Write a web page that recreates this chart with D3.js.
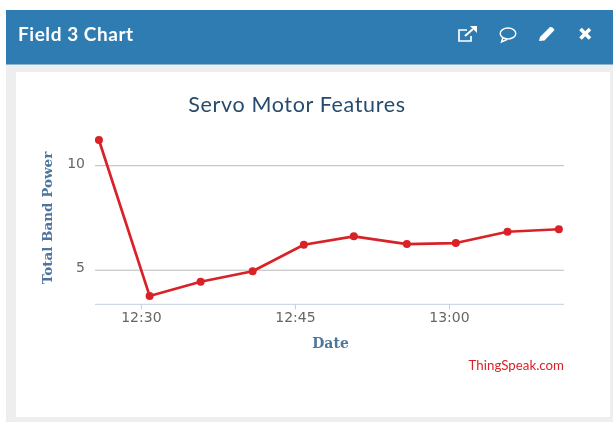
<!DOCTYPE html>
<html><head><meta charset="utf-8">
<script src="https://cdnjs.cloudflare.com/ajax/libs/d3/7.8.5/d3.min.js"></script>
<style>html,body{margin:0;padding:0;background:#fff;overflow:hidden}svg{display:block;filter:blur(0.35px)}</style>
</head><body><svg id="c" width="613" height="422"></svg>
<script>
const times = ["12:25:55","12:30:51","12:35:49","12:40:53","12:45:52","12:50:44","12:55:54","13:00:40","13:05:42","13:10:42"];
const values = [11.23,3.77,4.45,4.95,6.22,6.62,6.25,6.30,6.84,6.96];
const xTicks = ["12:30:00","12:45:00","13:00:00"];
const yTicks = [5,10];
const xDomain = ["12:25:32","13:11:12"];
const yDomain = [3.37,10];
const panelTitle = "Field 3 Chart";
const chartTitle = "Servo Motor Features";
const xLabel = "Date";
const yLabel = "Total Band Power";
const credit = "ThingSpeak.com";

const parse = s => new Date("2020-01-01T"+s+"Z");
const svg = d3.select("#c");
const sans = "Lato, 'Open Sans', sans-serif";
const tickFont = "'DejaVu Sans', sans-serif";
const labelFont = "'DejaVu Serif', serif";

// panel
svg.append("rect").attr("x",6).attr("y",10).attr("width",607).attr("height",412).attr("fill","#eeeeee");
svg.append("rect").attr("x",6).attr("y",10).attr("width",607).attr("height",54.5).attr("fill","#2e7cb2");
svg.append("rect").attr("x",16).attr("y",72).attr("width",594).attr("height",345).attr("fill","#fff");
svg.append("text").attr("x",18).attr("y",41).attr("fill","#fff").attr("font-family",sans)
  .attr("font-weight",700).attr("font-size",19).attr("letter-spacing",0.55).text(panelTitle);

// header icons
const ic = svg.append("g").attr("fill","none").attr("stroke","#fff").attr("stroke-width",1.7);
ic.append("path").attr("d","M467 30h-8v11h12v-5");
ic.append("path").attr("d","M465 36L473 29").attr("stroke-width",2);
ic.append("path").attr("d","M470 26h7v7z").attr("fill","#fff").attr("stroke","none");
ic.append("ellipse").attr("cx",508).attr("cy",33.5).attr("rx",7.8).attr("ry",5.5).attr("stroke-width",1.4);
ic.append("path").attr("d","M503 37.5l-1.5 4.5l5.5-2.5").attr("stroke-width",1.4);
ic.append("path").attr("d","M539 41l1-4l10-10q3-0.5 4.5 3l-10 10.5z").attr("fill","#fff").attr("stroke","none");
ic.append("path").attr("d","M580.5 29L590 38.5M590 29L580.5 38.5").attr("stroke-width",3.6);

// scales
const x = d3.scaleTime().domain(xDomain.map(parse)).range([95,564]);
const y = d3.scaleLinear().domain(yDomain).range([304.3,165.7]);

// grid
svg.append("g").selectAll("line").data(yTicks).join("line")
  .attr("x1",95).attr("x2",564).attr("y1",d=>y(d)).attr("y2",d=>y(d))
  .attr("stroke","#bcbcbc").attr("stroke-width",1);

// x axis
const gx = svg.append("g").attr("transform","translate(0,304.3)")
  .call(d3.axisBottom(x).tickValues(xTicks.map(parse)).tickSize(5)
    .tickFormat(d3.utcFormat("%H:%M")));
gx.select(".domain").attr("stroke","#c0d0e0").attr("d","M95,0H564");
gx.selectAll(".tick line").attr("stroke","#c0d0e0");
gx.selectAll("text").attr("fill","#666").attr("font-family",tickFont).attr("font-size",14).attr("dy",null).attr("y",18);

// y axis
const gy = svg.append("g").attr("transform","translate(85,0)")
  .call(d3.axisLeft(y).tickValues(yTicks).tickSize(0).tickPadding(0).tickFormat(d3.format("d")));
gy.select(".domain").remove();
gy.selectAll("text").attr("fill","#666").attr("font-family",tickFont).attr("font-size",14).attr("dy","0.1em");

// line
const line = d3.line().x((d,i)=>x(parse(times[i]))).y(d=>y(d));
svg.append("path").datum(values).attr("d",line).attr("fill","none").attr("stroke","#d92228")
  .attr("stroke-width",2.7).attr("stroke-linejoin","round");
svg.append("g").selectAll("circle").data(values).join("circle")
  .attr("cx",(d,i)=>x(parse(times[i]))).attr("cy",d=>y(d)).attr("r",4).attr("fill","#d92228");

// text
svg.append("text").attr("x",297).attr("y",112).attr("text-anchor","middle").attr("fill","#274b6d")
  .attr("font-family",sans).attr("font-size",21.5).attr("letter-spacing",0.65).text(chartTitle);
svg.append("text").attr("x",330.5).attr("y",348).attr("text-anchor","middle").attr("fill","#4d759e")
  .attr("font-family",labelFont).attr("font-weight",700).attr("font-size",14).text(xLabel);
svg.append("text").attr("transform","translate(52,218) rotate(-90)").attr("text-anchor","middle").attr("fill","#4d759e")
  .attr("font-family",labelFont).attr("font-weight",700).attr("font-size",13.5).text(yLabel);
svg.append("text").attr("x",564).attr("y",370).attr("text-anchor","end").attr("fill","#d92228")
  .attr("font-family",sans).attr("font-size",13.3).text(credit);
</script></body></html>
